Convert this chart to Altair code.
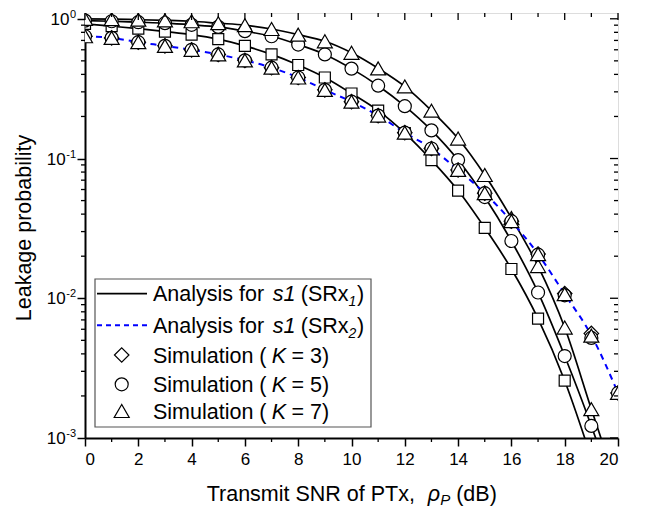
import altair as alt
import pandas as pd

# ---------------- data ----------------
snr_db = list(range(21))

# Analysis / simulation for s1 at SRx1 (solid black curves)
srx1_k3 = [0.92, 0.885, 0.85, 0.81, 0.77, 0.715, 0.64, 0.556, 0.467, 0.38, 0.292,
           0.22, 0.152, 0.0975, 0.059, 0.0319, 0.0162, 0.00714, 0.00257, 0.00072, 0.00018]
srx1_k5 = [0.97, 0.96, 0.945, 0.93, 0.905, 0.875, 0.815, 0.75, 0.654, 0.556, 0.44,
           0.332, 0.237, 0.159, 0.0975, 0.053, 0.0257, 0.011, 0.00386, 0.00122, 0.00034]
srx1_k7 = [1.0, 0.995, 0.985, 0.975, 0.96, 0.93, 0.9, 0.845, 0.77, 0.69, 0.571,
           0.442, 0.328, 0.22, 0.139, 0.0762, 0.0375, 0.017, 0.00617, 0.00161, 0.00043]

# Analysis for s1 at SRx2 (blue dashed) and its simulations for K = 3, 5, 7
srx2_analysis = [0.75, 0.73, 0.68, 0.64, 0.60, 0.556, 0.504, 0.447, 0.38, 0.31, 0.255,
                 0.203, 0.153, 0.118, 0.0828, 0.0565, 0.0356, 0.0207, 0.0107, 0.00543, 0.0021]
srx2_k3 = [0.75, 0.73, 0.68, 0.64, 0.60, 0.556, 0.504, 0.447, 0.38, 0.31, 0.255,
           0.203, 0.153, 0.118, 0.0828, 0.0565, 0.0356, 0.0207, 0.0108, 0.0056, 0.0021]
srx2_k5 = [0.75, 0.73, 0.68, 0.64, 0.60, 0.556, 0.504, 0.447, 0.38, 0.31, 0.255,
           0.203, 0.153, 0.118, 0.0828, 0.0565, 0.0356, 0.0205, 0.0105, 0.0052, 0.0021]
srx2_k7 = [0.75, 0.73, 0.68, 0.64, 0.60, 0.556, 0.504, 0.447, 0.38, 0.31, 0.255,
           0.203, 0.153, 0.118, 0.0828, 0.0565, 0.0356, 0.0207, 0.0107, 0.0054, 0.0021]

x_major = [0, 2, 4, 6, 8, 10, 12, 14, 16, 18, 20]
x_minor = [1, 3, 5, 7, 9, 11, 13, 15, 17, 19]
y_major = [0.001, 0.01, 0.1, 1]
y_exponents = ["-3", "-2", "-1", "0"]
y_minor = [k * 10.0 ** e for e in (-3, -2, -1) for k in range(2, 10)]

# ---------------- layout ----------------
W, H = 533, 425
TOP = 5
FONT = "Liberation Sans"
BLUE = "#0000ff"

AW = {' ': .278, 'A': .667, 'n': .556, 'a': .556, 'l': .222, 'y': .5, 's': .5, 'i': .222,
      'f': .278, 'o': .556, 'r': .333, '(': .333, ')': .333, 'S': .667, 'R': .722, 'x': .5,
      'm': .833, 'u': .556, 't': .278, 'K': .667, '=': .584, 'T': .611, 'N': .722,
      'P': .667, ',': .278, 'd': .556, 'B': .667, 'ρ': .58, '-': .333}


def tw(s, size):
    return sum(AW.get(c, .556) for c in s) * size


one = pd.DataFrame({"a": [0]})

x_scale = alt.Scale(domain=[0, 20], nice=False, zero=False)
y_scale = alt.Scale(type="log", domain=[0.001, 1.1], nice=False)
x_axis = alt.Axis(values=x_major, tickSize=8, tickWidth=1.5, tickColor="black",
                  labelFontSize=17, labelFont=FONT, labelColor="black", labelPadding=5,
                  labelAngle=0, format="d", domainWidth=2, domainColor="black",
                  grid=False, title=None)
y_axis = alt.Axis(values=y_major, tickSize=8, tickWidth=1.5, tickColor="black",
                  labels=False, domainWidth=2, domainColor="black", grid=False, title=None)


def X(f):
    return alt.X(f"{f}:Q", scale=x_scale, axis=x_axis)


def Y(f):
    return alt.Y(f"{f}:Q", scale=y_scale, axis=y_axis)


def series_df(vals):
    return pd.DataFrame({"snr": snr_db, "p": vals})


layers = []

# solid analysis curves (SRx1)
for vals in (srx1_k3, srx1_k5, srx1_k7):
    layers.append(alt.Chart(series_df(vals)).mark_line(
        color="black", strokeWidth=1.7, interpolate="monotone", clip=True
    ).encode(x=X("snr"), y=Y("p")))

# dashed analysis curve (SRx2)
layers.append(alt.Chart(series_df(srx2_analysis)).mark_line(
    color=BLUE, strokeWidth=2, strokeDash=[6, 5], interpolate="monotone", clip=True
).encode(x=X("snr"), y=Y("p")))

SIZES = {"square": 121, "circle": 169, "triangle-up": 225, "diamond": 210}


def markers(vals, shape):
    return alt.Chart(series_df(vals)).mark_point(
        shape=shape, size=SIZES[shape], filled=True, fill="white", stroke="black",
        strokeWidth=1.2, opacity=1, fillOpacity=1, clip=True
    ).encode(x=X("snr"), y=Y("p"))


layers += [markers(srx1_k3, "square"), markers(srx1_k5, "circle"),
           markers(srx1_k7, "triangle-up"),
           markers(srx2_k3, "diamond"), markers(srx2_k5, "circle"),
           markers(srx2_k7, "triangle-up")]

# extra ticks: minor, top and right
rule = dict(color="black", strokeWidth=1.3)
layers.append(alt.Chart(pd.DataFrame({"t": x_minor})).mark_rule(**rule).encode(
    x=X("t"), y=alt.value(H), y2=alt.value(H + 4)))
layers.append(alt.Chart(pd.DataFrame({"t": x_major})).mark_rule(**rule).encode(
    x=X("t"), y=alt.value(0), y2=alt.value(7)))
layers.append(alt.Chart(pd.DataFrame({"t": x_minor})).mark_rule(**rule).encode(
    x=X("t"), y=alt.value(0), y2=alt.value(4)))
layers.append(alt.Chart(pd.DataFrame({"v": y_minor})).mark_rule(**rule).encode(
    y=Y("v"), x=alt.value(-4), x2=alt.value(0)))
layers.append(alt.Chart(pd.DataFrame({"v": y_major})).mark_rule(**rule).encode(
    y=Y("v"), x=alt.value(W - 8), x2=alt.value(W)))
layers.append(alt.Chart(pd.DataFrame({"v": y_minor})).mark_rule(**rule).encode(
    y=Y("v"), x=alt.value(W - 4), x2=alt.value(W)))

# y tick labels 10^e
LBL, SUP = 17, 11
for v, e in zip(y_major, y_exponents):
    d = pd.DataFrame({"v": [v], "e": [e], "b": ["10"]})
    layers.append(alt.Chart(d).mark_text(
        align="right", baseline="middle", fontSize=SUP, font=FONT, color="black", dy=-4
    ).encode(y=Y("v"), x=alt.value(-9), text="e:N"))
    layers.append(alt.Chart(d).mark_text(
        align="right", baseline="middle", fontSize=LBL, font=FONT, color="black", dy=1
    ).encode(y=Y("v"), x=alt.value(-9 - tw(e, SUP) - 0.5), text="b:N"))


def rich(segments, x0, y, size):
    """segments: (text, italic, scale, dy, gap_after_em)"""
    out = []
    x = x0
    for text, italic, sc, dy, gap in segments:
        fs = size * sc
        out.append(alt.Chart(one).mark_text(
            align="left", baseline="alphabetic", fontSize=fs, font=FONT, color="black",
            fontStyle="italic" if italic else "normal", dy=dy, text=text
        ).encode(x=alt.value(x), y=alt.value(y)))
        x += tw(text, fs) + gap * size
    return out


# axis titles
TF = 21.5
layers += rich([("Transmit SNR of PTx,", False, 1, 0, 0.556),
                ("ρ", True, 1, 0, 0),
                ("P", True, 0.7, 4, 0.278),
                ("(dB)", False, 1, 0, 0)], 121.7, 493 - TOP, TF)
layers.append(alt.Chart(one).mark_text(
    align="center", baseline="middle", angle=270, fontSize=TF, font=FONT, color="black",
    text="Leakage probability"
).encode(x=alt.value(-60), y=alt.value(226 - TOP - 6)))

# legend
layers.append(alt.Chart(one).mark_rect(
    fill="white", stroke="#555555", strokeWidth=1.2
).encode(x=alt.value(10), x2=alt.value(286), y=alt.value(278 - 10 - TOP + 3),
         y2=alt.value(426 - 10 - TOP + 3)))

LF = 21.5
rows = [r - 10 - TOP + 3 for r in (292.7, 324.3, 354, 383.3, 410)]
layers.append(alt.Chart(one).mark_rule(color="black", strokeWidth=1.7).encode(
    x=alt.value(12), x2=alt.value(62), y=alt.value(rows[0])))
layers.append(alt.Chart(one).mark_rule(color=BLUE, strokeWidth=2, strokeDash=[5, 4]).encode(
    x=alt.value(12), x2=alt.value(62), y=alt.value(rows[1])))
for r, shape in zip(rows[2:], ["diamond", "circle", "triangle-up"]):
    layers.append(alt.Chart(one).mark_point(
        shape=shape, size=SIZES[shape], filled=True, fill="white", stroke="black",
        strokeWidth=1.2, opacity=1
    ).encode(x=alt.value(36.7), y=alt.value(r)))

base_off = 0.36 * LF
for r, sub in zip(rows[:2], ["1", "2"]):
    layers += rich([("Analysis for", False, 1, 0, 0.4),
                    ("s1", True, 1, 0, 0.25),
                    ("(SRx", False, 1, 0, 0),
                    (sub, True, 0.65, 5, 0.03),
                    (")", False, 1, 0, 0)], 68, r + base_off, LF)
for r, k in zip(rows[2:], ["3", "5", "7"]):
    layers += rich([("Simulation (", False, 1, 0, 0.25),
                    ("K", True, 1, 0, 0.25),
                    (f"= {k})", False, 1, 0, 0)], 68, r + base_off, LF)

chart = alt.layer(*layers).properties(
    width=W, height=H,
    padding={"left": 77, "top": TOP, "right": 20, "bottom": 76},
    autosize=alt.AutoSizeParams(type="none"),
).configure_view(stroke="black", strokeWidth=1.5).configure(background="white")

chart.save("out.html", embed_options={"renderer": "svg", "actions": False})
